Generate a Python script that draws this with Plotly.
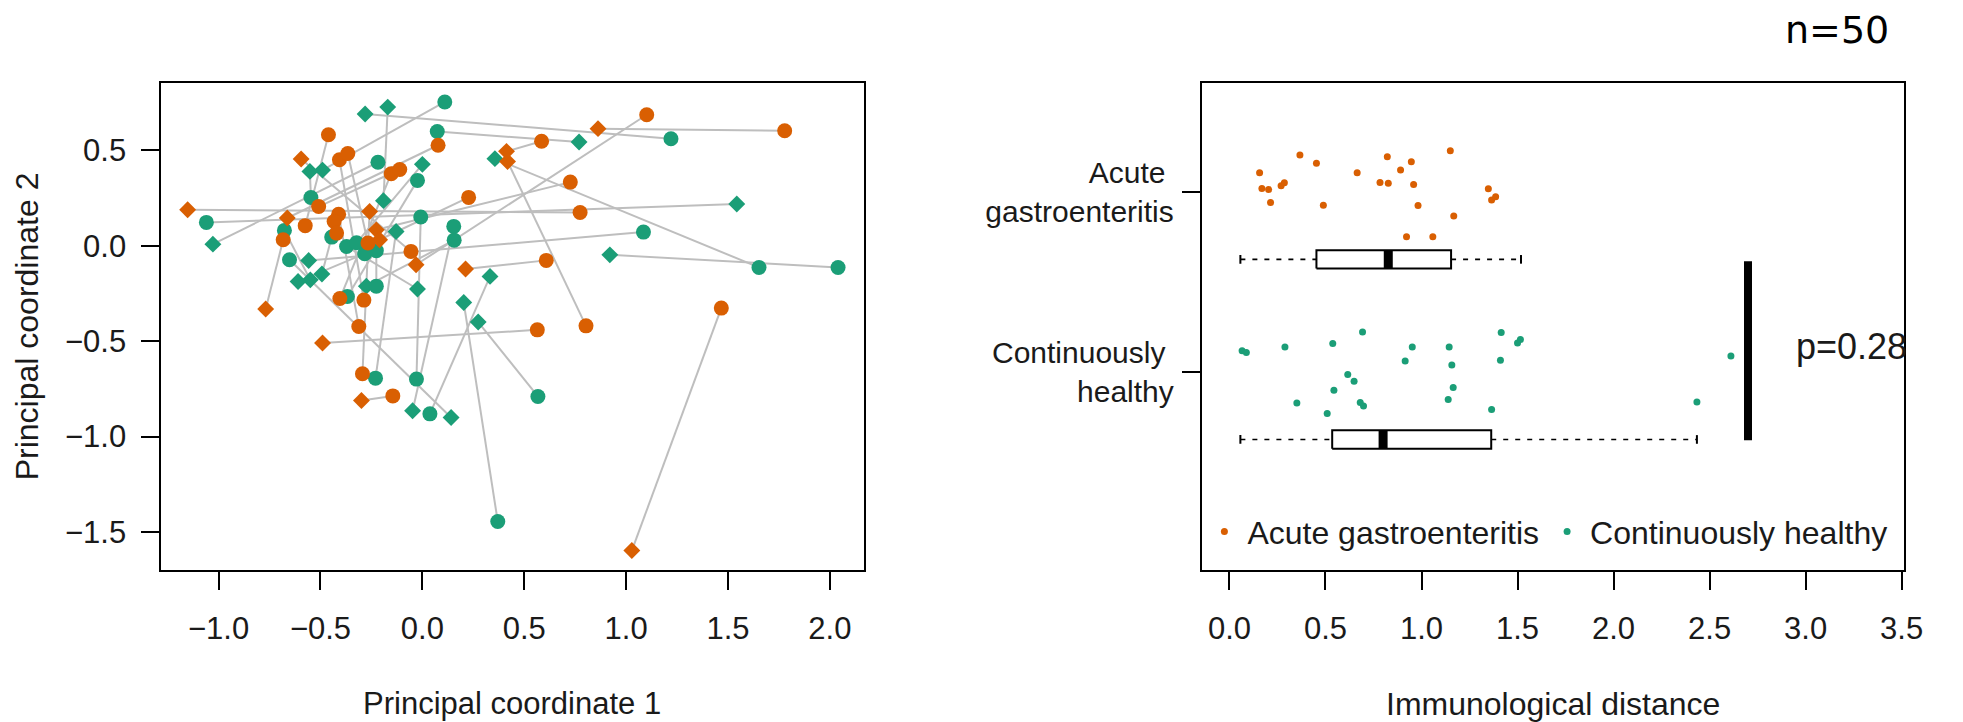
import plotly.graph_objects as go

# ---------------- Left panel: principal coordinates (one pair of samples per subject) ----------------
# visit "V1" drawn as circle, "V2" drawn as diamond
acute_pc1_a = [1.467, 0.564, 1.778, 0.774, -0.683, -0.145, 0.803, 0.585, 1.101, 0.726, 0.227,
               0.608, -0.056, -0.461, 0.077, -0.407, -0.366, -0.153, -0.111, -0.411, -0.433, -0.294]
acute_pc2_a = [-0.327, -0.441, 0.602, 0.174, 0.031, -0.787, -0.420, 0.547, 0.686, 0.333, 0.253,
               -0.077, -0.030, 0.581, 0.526, 0.450, 0.483, 0.377, 0.399, 0.165, 0.127, -0.671]
acute_visit_a = ["V1"] * 22
acute_pc1_b = [1.028, -0.490, 0.862, -1.152, -0.769, -0.299, 0.418, 0.413, -0.031, -0.226, -0.210,
               0.212, -0.595, -0.575, -0.663, -0.287, -0.267, -0.405, -0.509, -0.312, -0.421, -0.259]
acute_pc2_b = [-1.597, -0.510, 0.613, 0.188, -0.332, -0.811, 0.441, 0.494, -0.100, 0.083, 0.031,
               -0.122, 0.454, 0.105, 0.145, -0.285, 0.014, -0.277, 0.205, -0.423, 0.066, 0.179]
acute_visit_b = ["V2", "V2", "V2", "V2", "V2", "V2", "V2", "V2", "V2", "V2", "V2",
                 "V2", "V2", "V1", "V2", "V1", "V1", "V1", "V1", "V1", "V1", "V2"]

healthy_pc1_a = [-0.490, -0.281, -0.170, 0.769, 0.356, 1.543, -1.028, -0.558, 0.920, -0.275, -0.048,
                 -0.008, -0.552, -0.550, -0.493, -0.024, 0.000, -0.610, -0.226, -0.129, 0.332, 0.141,
                 0.274, 0.203, -0.024]
healthy_pc2_a = [0.396, 0.690, 0.726, 0.543, 0.456, 0.218, 0.008, -0.078, -0.048, -0.212, -0.865,
                 0.150, 0.389, -0.179, -0.148, -0.227, 0.426, -0.188, -0.026, 0.074, -0.161, -0.900,
                 -0.400, -0.298, 0.342]
healthy_visit_a = ["V2", "V2", "V2", "V2", "V2", "V2", "V2", "V2", "V2", "V2", "V2",
                   "V1", "V2", "V2", "V2", "V2", "V2", "V2", "V1", "V2", "V2", "V2",
                   "V2", "V2", "V1"]
healthy_pc1_b = [0.110, 1.220, -0.191, 0.073, 1.652, -1.060, -0.218, 1.085, 2.040, 0.156, 0.154,
                 -0.029, -0.547, -0.677, -0.445, -0.372, -0.323, -0.283, -0.226, -0.230, 0.037, -0.652,
                 0.567, 0.370, -0.368]
healthy_pc2_b = [0.753, 0.560, 0.236, 0.598, -0.114, 0.122, 0.437, 0.071, -0.114, 0.029, 0.101,
                 -0.699, 0.252, 0.080, 0.045, -0.004, 0.015, -0.042, -0.212, -0.694, -0.881, -0.074,
                 -0.790, -1.445, -0.266]
healthy_visit_b = ["V1", "V1", "V2", "V1", "V1", "V1", "V1", "V1", "V1", "V1", "V1",
                   "V1", "V1", "V1", "V1", "V1", "V1", "V1", "V1", "V1", "V1", "V1",
                   "V1", "V1", "V1"]

pc_ticks = [-1.0, -0.5, 0.0, 0.5, 1.0, 1.5, 2.0]
pc2_ticks = [-1.5, -1.0, -0.5, 0.0, 0.5]

# ---------------- Right panel: immunological distance ----------------
groups = ["Acute gastroenteritis", "Continuously healthy"]
group_labels = ["Acute\u00a0<br>gastroenteritis", "Continuously\u00a0<br>healthy"]
acute_distance = [0.157, 0.169, 0.204, 0.214, 0.269, 0.286, 0.367, 0.453, 0.489, 0.665, 0.784, 0.827,
                  0.822, 0.891, 0.947, 0.959, 0.982, 0.922, 1.059, 1.150, 1.168, 1.348, 1.365, 1.386]
acute_jitter = [0.106, 0.019, 0.013, -0.059, 0.033, 0.050, 0.204, 0.158, -0.074, 0.106, 0.052, 0.047,
                0.194, 0.121, 0.167, 0.041, -0.076, -0.250, -0.250, 0.228, -0.135, 0.017, -0.046, -0.028]
healthy_distance = [0.066, 0.088, 0.289, 0.538, 0.693, 0.616, 0.649, 0.544, 0.351, 0.509, 0.681, 0.698,
                    0.952, 0.915, 1.144, 1.158, 1.165, 1.139, 1.415, 1.500, 1.515, 1.411, 1.365, 2.611, 2.434]
healthy_jitter = [0.117, 0.108, 0.139, 0.158, 0.222, -0.014, -0.052, -0.102, -0.172, -0.231, -0.170, -0.189,
                  0.139, 0.061, 0.139, 0.039, -0.087, -0.153, 0.219, 0.161, 0.180, 0.065, -0.209, 0.089, -0.167]
# box statistics: acute, healthy
whisker_low = [0.057, 0.057]
box_q1 = [0.453, 0.535]
box_median = [0.827, 0.800]
box_q3 = [1.154, 1.363]
whisker_high = [1.518, 2.434]
p_value_text = "p=0.28"
dist_ticks = [0.0, 0.5, 1.0, 1.5, 2.0, 2.5, 3.0, 3.5]
n_text = "n=50"

ORANGE = "#D95F02"
GREEN = "#1B9E77"
GREY = "#BEBEBE"
TEXT = "#1a1a1a"
FONT = "Liberation Sans, Arial, sans-serif"
SYMBOL = {"V1": "circle", "V2": "diamond"}
MSIZE = {"V1": 15, "V2": 13}

fig = go.Figure()

# connecting segments
lx, ly = [], []
for a1, a2, b1, b2 in list(zip(acute_pc1_a, acute_pc2_a, acute_pc1_b, acute_pc2_b)) + \
        list(zip(healthy_pc1_a, healthy_pc2_a, healthy_pc1_b, healthy_pc2_b)):
    lx += [a1, b1, None]
    ly += [a2, b2, None]
fig.add_trace(go.Scatter(x=lx, y=ly, mode="lines", line=dict(color=GREY, width=2),
                         showlegend=False, hoverinfo="skip", xaxis="x", yaxis="y"))

def add_points(x, y, visits, color):
    fig.add_trace(go.Scatter(
        x=x, y=y, mode="markers", showlegend=False, xaxis="x", yaxis="y",
        marker=dict(color=color, opacity=1, symbol=[SYMBOL[v] for v in visits],
                    size=[MSIZE[v] for v in visits], line=dict(width=0))))

add_points(healthy_pc1_a + healthy_pc1_b, healthy_pc2_a + healthy_pc2_b,
           healthy_visit_a + healthy_visit_b, GREEN)
add_points(acute_pc1_a + acute_pc1_b, acute_pc2_a + acute_pc2_b,
           acute_visit_a + acute_visit_b, ORANGE)

# ---- right panel ----
cat_pos = [2, 1]
box_offset = 0.375
box_half = 0.051
staple_half = 0.024

fig.add_trace(go.Scatter(x=acute_distance, y=[cat_pos[0] + j for j in acute_jitter], mode="markers",
                         name=groups[0], marker=dict(color=ORANGE, size=7, opacity=1),
                         xaxis="x2", yaxis="y2"))
fig.add_trace(go.Scatter(x=healthy_distance, y=[cat_pos[1] + j for j in healthy_jitter], mode="markers",
                         name=groups[1], marker=dict(color=GREEN, size=7, opacity=1),
                         xaxis="x2", yaxis="y2"))

box_y = [c - box_offset for c in cat_pos]
for i in range(2):
    yc = box_y[i]
    fig.add_trace(go.Scatter(
        x=[box_q1[i], box_q3[i], box_q3[i], box_q1[i], box_q1[i]],
        y=[yc - box_half, yc - box_half, yc + box_half, yc + box_half, yc - box_half],
        mode="lines", line=dict(color="black", width=2), showlegend=False, hoverinfo="skip",
        xaxis="x2", yaxis="y2"))
    fig.add_trace(go.Scatter(
        x=[whisker_low[i], box_q1[i], None, box_q3[i], whisker_high[i]],
        y=[yc, yc, None, yc, yc], mode="lines",
        line=dict(color="black", width=1.6, dash="5px,7px"), showlegend=False, hoverinfo="skip",
        xaxis="x2", yaxis="y2"))
    fig.add_trace(go.Scatter(
        x=[whisker_low[i], whisker_low[i], None, whisker_high[i], whisker_high[i]],
        y=[yc - staple_half, yc + staple_half, None, yc - staple_half, yc + staple_half],
        mode="lines", line=dict(color="black", width=2), showlegend=False, hoverinfo="skip",
        xaxis="x2", yaxis="y2"))
    fig.add_trace(go.Scatter(
        x=[box_median[i], box_median[i]], y=[yc - box_half, yc + box_half], mode="lines",
        line=dict(color="black", width=9), showlegend=False, hoverinfo="skip",
        xaxis="x2", yaxis="y2"))

# significance bar between the two boxes
sig_x = 2.70
fig.add_trace(go.Scatter(x=[sig_x, sig_x], y=[box_y[0] - 0.01, box_y[1] - 0.005], mode="lines",
                         line=dict(color="black", width=8), showlegend=False, hoverinfo="skip",
                         xaxis="x2", yaxis="y2"))

axis_common = dict(showline=True, mirror=True, linecolor="black", linewidth=2,
                   ticks="outside", ticklen=18, tickwidth=2, tickcolor="black",
                   showgrid=False, zeroline=False)
tick_font = dict(family=FONT, size=31, color=TEXT)

fig.update_layout(
    width=1963, height=722, autosize=False,
    margin=dict(l=0, r=0, t=0, b=0),
    paper_bgcolor="white", plot_bgcolor="white",
    font=dict(family=FONT, color=TEXT),
    xaxis=dict(domain=[0.0830, 0.4442], range=[-1.281, 2.165], tickvals=pc_ticks,
               tickformat=".1f", ticklabelstandoff=12, anchor="y", tickfont=tick_font, **axis_common),
    yaxis=dict(domain=[0.2105, 0.8850], range=[-1.699, 0.852], tickvals=pc2_ticks,
               tickformat=".1f", ticklabelstandoff=9, anchor="x", tickfont=tick_font, **axis_common),
    xaxis2=dict(domain=[0.6182, 0.9796], range=[-0.144, 3.514], tickvals=dist_ticks,
                tickformat=".1f", ticklabelstandoff=12, anchor="y2", tickfont=tick_font, **axis_common),
    yaxis2=dict(domain=[0.2105, 0.8850], range=[-0.10, 2.604], tickvals=cat_pos,
                ticktext=group_labels, ticklabelstandoff=2, anchor="x2",
                tickfont=dict(family=FONT, size=30, color=TEXT), **axis_common),
    legend=dict(orientation="h", x=0.6180, y=0.2636, xanchor="left", yanchor="middle",
                font=dict(family=FONT, size=32, color=TEXT), bgcolor="rgba(0,0,0,0)",
                itemwidth=36, tracegroupgap=0),
    showlegend=True,
    annotations=[
        dict(text="Principal coordinate 1", x=0.2636, y=0.025, xref="paper", yref="paper",
             showarrow=False, font=dict(family=FONT, size=31), xanchor="center", yanchor="middle"),
        dict(text="Principal coordinate 2", x=0.0143, y=0.5478, xref="paper", yref="paper",
             showarrow=False, textangle=-90, font=dict(family=FONT, size=32),
             xanchor="center", yanchor="middle"),
        dict(text="Immunological distance", x=0.7989, y=0.025, xref="paper", yref="paper",
             showarrow=False, font=dict(family=FONT, size=32), xanchor="center", yanchor="middle"),
        dict(text=p_value_text, x=2.94, y=1.139, xref="x2", yref="y2", showarrow=False,
             font=dict(family=FONT, size=36), xanchor="left", yanchor="middle"),
        dict(text=n_text, x=0.945, y=0.958, xref="paper", yref="paper", showarrow=False,
             font=dict(family="DejaVu Sans, sans-serif", size=38, color="black"),
             xanchor="center", yanchor="middle"),
    ],
)

fig.write_html("out.html", config={"displayModeBar": False},
               post_script="document.body.style.margin='0';")
